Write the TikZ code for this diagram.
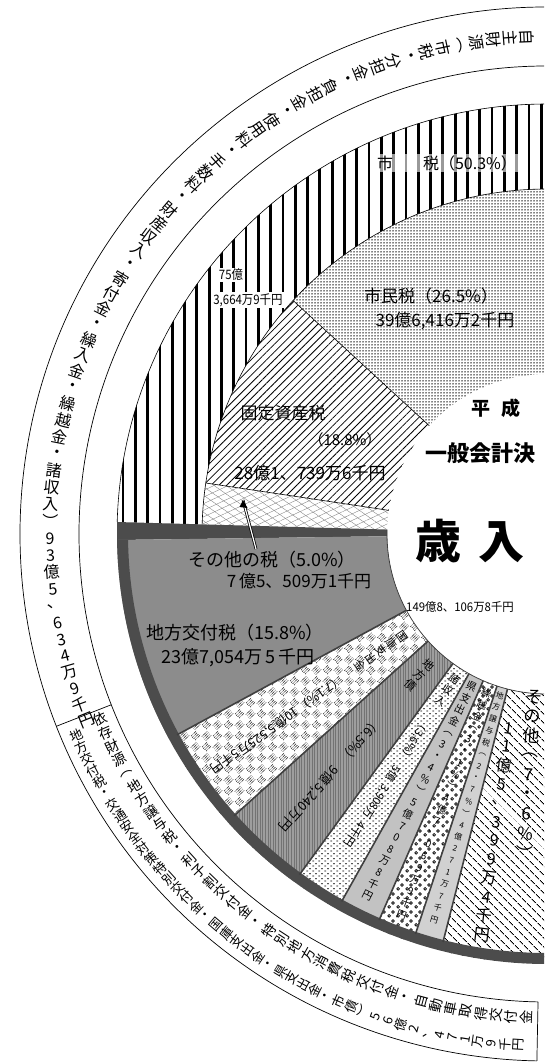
\documentclass[tikz,border=0pt]{standalone}
\usepackage{fontspec}
\setmainfont{Noto Sans CJK JP}
\usetikzlibrary{patterns,patterns.meta,calc,arrows.meta}
\newcommand\fs[1]{\fontsize{#1}{#1}\selectfont}
\tikzdeclarepattern{name=shortdash, type=uncolored,
  bounding box={(0pt,0pt) and (6pt,5pt)}, tile size={(6pt,5pt)},
  code={\draw[line width=0.9pt] (0.5pt,1.25pt)--(2.6pt,1.25pt);
        \draw[line width=0.9pt] (3.5pt,3.75pt)--(5.6pt,3.75pt);}}
\tikzdeclarepattern{name=rings, type=uncolored,
  bounding box={(0pt,0pt) and (9pt,9pt)}, tile size={(9pt,9pt)},
  code={\draw[line width=0.8pt] (2.4pt,2.4pt) circle (1.5pt);
        \draw[line width=0.8pt] (6.6pt,6.6pt) circle (1.5pt);}}
\tikzdeclarepattern{name=diadots, type=uncolored,
  bounding box={(0pt,0pt) and (16pt,16pt)}, tile size={(16pt,16pt)},
  tile transformation={rotate=45},
  code={\foreach \i in {0,...,3}{\foreach \j in {0,...,3}{
        \fill ({\i*2pt+1pt},{\j*2pt+1pt}) circle (0.6pt);
        \fill ({\i*2pt+9pt},{\j*2pt+9pt}) circle (0.6pt);}}}}
% annular sector: style, a1, a2, r1, r2
\newcommand\annsec[5]{\path[#1] ($(C)+(#2:#4)$) arc[start angle=#2,end angle=#3,radius=#4] -- ($(C)+(#3:#5)$) arc[start angle=#3,end angle=#2,radius=#5] -- cycle;}
% radial vertical column of characters: name, angle, r0, step, size, list
\newcommand\vcol[6]{\foreach \ch [count=\k from 0] in {#6}{\node[font=\fs{#5},inner sep=0pt,rotate=#2+90] (#1\k) at ($(C)+(#2:{#3+\k*#4})$) {\ch};}}
% sideways chunks along radius: name, angle, size, list of r/text
\newcommand\scol[4]{\foreach \rr/\tx [count=\k] in {#4}{\node[font=\fs{#3},inner sep=0pt,anchor=west,rotate=#2] (#1\k) at ($(C)+(#2:\rr)$) {\tx};}}
% straight column: name, x0, y0, dx, dy, size, rotation, list
\newcommand\lcol[8]{\foreach \ch [count=\k from 0] in {#8}{\node[font=\fs{#6},inner sep=0pt,rotate=#7] (#1\k) at ({#2+\k*#4},{#3+\k*#5}) {\ch};}}
% ring text along arc: name, radius, start angle, step, size, list
\newcommand\rcol[6]{\foreach \ch [count=\k from 0] in {#6}{\node[font=\fs{#5},inner sep=0pt,rotate={#3+\k*#4-180}] (#1\k) at ($(C)+({#3+\k*#4}:#2)$) {\ch};}}
\tikzset{lbl/.style={inner sep=1pt}}
\begin{document}
\begin{tikzpicture}[x=1pt,y=1pt]
\useasboundingbox (0,0) rectangle (544,-1062);
\clip (0,0) rectangle (544,-1062);
\fill[white] (0,0) rectangle (544,-1062);
\coordinate (C) at (547,-534);
% ---- outer label rings
\draw[line width=0.7pt] ($(C)+(86:527)$) arc[start angle=86,end angle=268.9,radius=527];
\draw[line width=0.7pt] ($(C)+(86:468)$) arc[start angle=86,end angle=268.9,radius=468];
\draw[line width=0.7pt] ($(C)+(201.4:468)$) -- ($(C)+(201.4:527)$);
\draw[line width=0.7pt] ($(C)+(268.9:468)$) -- ($(C)+(268.9:527)$);
\rcol{u}{497}{92.3}{1.96}{16}{自,主,財,源,︵,市,税,・,分,担,金,・,負,担,金,・,使,用,料,・,手,数,料,・,財,産,収,入,・,寄,付,金,・,繰,入,金,・,繰,越,金,・,諸,収,入,︶,9,3,億,5,、,6,3,4,万,9,千,円}
\rcol{li}{484}{202.4}{1.81}{14}{依,存,財,源,︵,地,方,譲,与,税,・,利,子,割,交,付,金,・,特,別,地,方,消,費,税,交,付,金,・,自,動,車,取,得,交,付,金}
\rcol{lo}{512}{203.1}{1.48}{13}{地,方,交,付,税,・,交,通,安,全,対,策,特,別,交,付,金,・,国,庫,支,出,金,・,県,支,出,金,・,市,債,︶,5,6,億,2,、,4,7,1,万,9,千,円}
% ---- 市税 outer band (vertical stripes)
\annsec{fill=white}{90}{178.4}{430}{345}
\annsec{pattern={Lines[angle=90,distance=12.3pt,line width=2.8pt]}}{90}{178.4}{430}{345}
% ---- 市税 breakdown
\annsec{fill=white}{90}{137.4}{345}{160}
\annsec{pattern={Dots[distance=3pt,radius=0.75pt]}}{90}{137.4}{345}{160}
\annsec{fill=white}{137.4}{171.5}{345}{160}
\annsec{pattern={Lines[angle=45,distance=5.5pt,line width=0.8pt]}}{137.4}{171.5}{345}{160}
\annsec{fill=white}{171.5}{178.4}{345}{160}
\annsec{pattern={Lines[angle=25,distance=6pt,line width=0.35pt]},pattern color=gray}{171.5}{178.4}{345}{160}
\annsec{pattern={Lines[angle=-35,distance=7pt,line width=0.35pt]},pattern color=gray}{171.5}{178.4}{345}{160}
\draw[line width=0.6pt] ($(C)+(90:430)$) arc[start angle=90,end angle=178.4,radius=430];
\draw[line width=0.6pt] ($(C)+(90:345)$) arc[start angle=90,end angle=178.4,radius=345];
\draw[line width=0.6pt] ($(C)+(137.4:160)$) -- ($(C)+(137.4:345)$);
\draw[line width=0.6pt] ($(C)+(171.5:160)$) -- ($(C)+(171.5:345)$);
% ---- lower slices
\annsec{fill=black!70}{178.4}{180.8}{430}{160}
\annsec{fill=black!45}{180.8}{208.5}{430}{160}
\annsec{fill=white}{208.5}{222}{430}{160}
\annsec{pattern=diadots}{208.5}{222}{430}{160}
\annsec{fill=black!38}{222}{234}{430}{160}
\annsec{pattern={Lines[angle=90,distance=2.6pt,line width=0.4pt]},pattern color=black!55}{222}{234}{430}{160}
\annsec{fill=white}{234}{240.8}{430}{160}
\annsec{pattern=shortdash}{234}{240.8}{430}{160}
\annsec{fill=black!24}{240.8}{246.5}{430}{160}
\annsec{fill=white}{246.5}{251.8}{430}{160}
\annsec{pattern=rings}{246.5}{251.8}{430}{160}
\annsec{fill=black!18}{251.8}{255.7}{430}{160}
\annsec{fill=white}{255.7}{275}{430}{160}
\annsec{pattern={Lines[angle=-45,distance=6.5pt,line width=0.8pt]}}{255.7}{275}{430}{160}
\annsec{fill=black!70}{180.8}{275}{430}{419}
\foreach \b in {208.5,222,234,240.8,246.5,251.8,255.7}{\draw[black!75,line width=1.6pt] ($(C)+(\b:160)$) -- ($(C)+(\b:421)$);}
\draw[black!75,line width=0.8pt] ($(C)+(178.4:160)$) arc[start angle=178.4,end angle=275,radius=160];
% ---- centre
\fill[white] (C) circle (159);
\node[font=\fs{19}\bfseries] (t1) at (496,-408) {平\hspace{12pt}成};
\node[font=\fs{22}\bfseries] (t2) at (480,-453) {一般会計決};
\node[font=\fs{46}\bfseries] (t3) at (470,-541) {歳\hspace{18pt}入};
\node[font=\fs{12},xscale=0.95] (t4) at (460,-607) {149億8、106万8千円};
% ---- upper labels
\node[lbl,font=\fs{16},fill=white,fill opacity=0.6,text opacity=1] (l1) at (447,-163) {市\hspace{30pt}税（50.3\%）};
\node[lbl,font=\fs{13},xscale=0.88,fill=white] (l2) at (231,-275) {75億};
\node[lbl,font=\fs{13},xscale=0.88,fill=white] (l3) at (248,-300) {3,664万9千円};
\node[lbl,font=\fs{17}] (l4) at (431,-296) {市民税（26.5\%）};
\node[lbl,font=\fs{17}] (l5) at (445,-321) {39億6,416万2千円};
\node[lbl,font=\fs{17}] (l6) at (283,-413) {固定資産税};
\node[lbl,font=\fs{15}] (l7) at (345,-440) {（18.8\%）};
\node[lbl,font=\fs{17}] (l8) at (310,-473) {28億1、739万6千円};
\node[lbl,font=\fs{18}] (l9) at (272,-560) {その他の税（5.0\%）};
\node[lbl,font=\fs{17}] (l10) at (299,-581) {7\,億5、509万1千円};
\node[lbl,font=\fs{18}] (l11) at (235,-633) {地方交付税（15.8\%）};
\node[lbl,font=\fs{18}] (l12) at (238,-658) {23億7,054万\,5\,千円};
\coordinate (arS) at (256,-549);
\coordinate (arE) at (243,-500);
\draw[line width=2.8pt] (arS) -- (arE);
\draw[white,line width=1.2pt] (arS) -- (arE);
\fill ($(arE)+(-3.5,-7)$) -- (arE) -- ($(arE)+(4.5,-8)$) -- cycle;
% ---- slice labels
\vcol{kk}{215.2}{178}{12.5}{11}{国,庫,支,出,金}
\scol{kn}{215.2}{12.5}{250/（7.1\%）,305/10億,333/{5,525万},378/5千円}
\vcol{cs}{228}{176}{14}{11.5}{地,方,債}
\scol{cn}{228}{13}{250/（6.5\%）,315/9億,337/{5,240万},384/円}
\vcol{ss}{237.4}{172}{13}{10.5}{諸,収,入}
\scol{sn}{237.4}{11}{222/（3.6\%）,276/5億,298/{3,908万},342/4千円}
\vcol{ks}{243.6}{170}{13}{10.5}{県,支,出,金,︵,3,・,4,％,︶,5,億,7,0,8,万,8,千,円}
\vcol{kr}{249.1}{170}{12.5}{10}{繰,越,金,︵,3,・,1,％,︶,4,億,7,、,0,6,9,万,9,千,円}
\vcol{jy}{253.7}{168}{12.3}{8}{地,方,譲,与,税,︵,2,・,7,％,︶,4,億,2,7,1,万,7,千,円}
\lcol{sa}{534}{-697}{-1.25}{-19.5}{17}{-4}{そ,の,他,︵,7,・,6,％,︶}
\lcol{sb}{509}{-728}{-2.45}{-18.8}{16}{-7}{1,1,億,5,、,3,9,9,万,4,千,円}
\end{tikzpicture}
\end{document}
